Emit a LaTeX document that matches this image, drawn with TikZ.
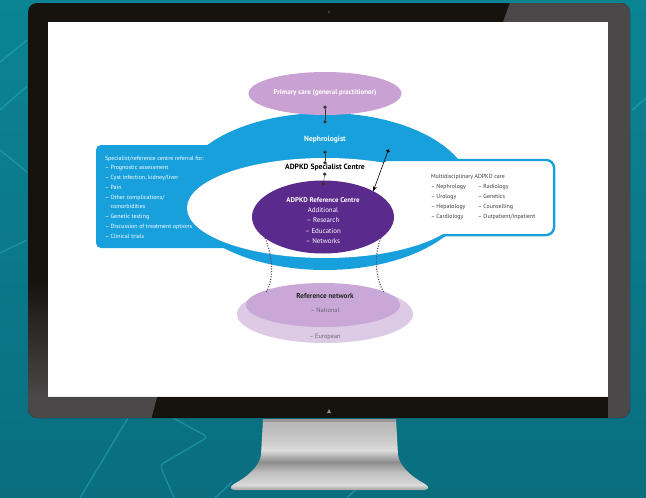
\documentclass[tikz,border=0pt]{standalone}
\usepackage{fontspec}
\setmainfont{PT Sans}
\usetikzlibrary{shapes.geometric,arrows.meta}
\definecolor{bgtop}{HTML}{0B8494}
\definecolor{bgbot}{HTML}{0A6E7F}
\definecolor{bgline}{HTML}{2DB0BF}
\definecolor{bezel}{HTML}{16130F}
\definecolor{bezelgray}{HTML}{4A4848}
\definecolor{blueband}{HTML}{18A0DD}
\definecolor{lilac}{HTML}{C9A2D3}
\definecolor{deeppurple}{HTML}{5A2A8C}
\definecolor{netouter}{HTML}{DDCBE6}
\definecolor{netinner}{HTML}{C9A8D7}
\definecolor{txtgray}{HTML}{3C3C3C}
\definecolor{nettxt}{HTML}{6E5F78}
\definecolor{dashcol}{HTML}{5B4A6B}
\definecolor{st1}{HTML}{B4B2B3}
\definecolor{st2}{HTML}{CACACA}
\definecolor{st3}{HTML}{DCDCDC}
\definecolor{st4}{HTML}{8C8C8C}
\definecolor{st5}{HTML}{BEBEBE}
\definecolor{st6}{HTML}{DADADA}
\definecolor{st7}{HTML}{A0A0A0}
\pgfdeclareverticalshading{standshade}{100bp}{color(0bp)=(st7); color(25bp)=(st7); color(28.5bp)=(st6); color(37.7bp)=(st5); color(44.7bp)=(st4); color(53.2bp)=(st3); color(60.2bp)=(st2); color(75bp)=(st1); color(100bp)=(st1)}
\begin{document}
\begin{tikzpicture}[x=1pt,y=-1pt,
  bgln/.style={draw=bgline, line width=1.3pt, opacity=0.5, rounded corners=4},
  conn/.style={draw=black!80, line width=0.35pt, {Circle[length=3.4pt]}-{Circle[length=3.4pt]}},
  refarrow/.style={draw=black, line width=0.6pt, {Circle[length=3.4pt]}-{Stealth[length=5pt,width=4pt]}},
  netlink/.style={draw=dashcol, line width=1.1pt, dash pattern=on 1.1pt off 1.5pt},
  lbl/.style={inner sep=0, outer sep=0, align=center},
  shapeonly/.style={ellipse, inner sep=0, outer sep=0}]
\useasboundingbox (0,0) rectangle (646,498);
% background
\shade[top color=bgtop, bottom color=bgbot] (0,0) rectangle (646,498);
\draw[bgln] (0,62) -- (27,40);
\draw[bgln] (0,110) -- (27,86);
\draw[bgln] (0,150) -- (27,172);
\draw[bgln] (0,253) -- (27,240);
\draw[bgln] (80,498) -- (128,418);
\draw[bgln] (173,418) -- (208,437) -- (160,465) -- (174,498);
\draw[bgln] (215,498) -- (232,482);
\draw[bgln] (347,498) -- (357,488);
\draw[bgln] (632,110) -- (646,98);
% monitor bezel
\fill[bezel, rounded corners=9] (28,3) rectangle (630,418);
\begin{scope}
  \clip[rounded corners=9] (28,3) rectangle (630,418);
  \fill[bezelgray] (511,0) -- (646,0) -- (646,420) -- (608,420) -- (608,22) -- (503,22) -- cycle;
  \shade[top color=bezel, bottom color=bezelgray] (0,280) rectangle (48,397);
  \fill[bezelgray] (0,397) -- (157,397) -- (151,420) -- (0,420) -- cycle;
\end{scope}
\fill[black!75] (329,12) circle (1.3);
\fill[black!45] (327,413) -- (329,409) -- (331,413) -- cycle;
% screen
\fill[white] (48,22) rectangle (608,397);
\fill[black!8] (48,395.5) rectangle (608,397);
% stand
\shade[shading=standshade] (263,419) -- (261,455) .. controls (259,468) and (245,478) .. (234,484) .. controls (229,487) and (230,490) .. (236,490) -- (423,490) .. controls (429,490) and (430,487) .. (425,484) .. controls (414,478) and (400,468) .. (398,455) -- (396,419) -- cycle;
\fill[black!50, opacity=0.5] (263,419) rectangle (396,422);

% ---- diagram ----
% blue band and boxes
\fill[blueband, rounded corners=5] (96,145) rectangle (232,248);
\fill[blueband] (325,191.5) ellipse [x radius=146, y radius=78.5];
\draw[blueband, line width=2.5pt, fill=white, rounded corners=8] (380,160) rectangle (554,235);
\fill[white] (325,208) ellipse [x radius=138, y radius=50];
\fill[white, rounded corners=7] (381.3,161.3) rectangle (552.7,233.7);

% primary care
\node[shapeonly, fill=lilac, minimum width=153, minimum height=43] (primary) at (325,93.5) {};
\node[lbl, text=white, font=\bfseries\fontsize{7}{8}\selectfont] (primarytxt) at (325,93) {Primary care (general practitioner)};

% nephrologist and specialist centre labels
\node[lbl, text=white, font=\bfseries\fontsize{7.5}{9}\selectfont] (neph) at (325,140) {Nephrologist};
\node[lbl, text=black, font=\bfseries\fontsize{7.6}{9}\selectfont] (spec) at (325,168) {ADPKD Specialist Centre};

% reference centre
\node[shapeonly, fill=deeppurple, minimum width=142, minimum height=73] (ref) at (323,217) {};
\node[lbl, text=white, font=\fontsize{6.9}{10.25}\selectfont] (reftxt) at (323,220.5) {{\bfseries ADPKD Reference Centre}\\Additional\\– Research\\– Education\\– Networks};

% reference network
\node[shapeonly, fill=netouter, minimum width=176, minimum height=58] (netout) at (325,314) {};
\node[shapeonly, fill=netinner, minimum width=154, minimum height=44] (netin) at (323,305) {};
\node[lbl, text=black!85, font=\bfseries\fontsize{7.2}{9}\selectfont] (nettitle) at (325,296) {Reference network};
\node[lbl, text=nettxt, font=\fontsize{6.3}{8}\selectfont] (netnat) at (325,310) {– National};
\node[lbl, text=nettxt, font=\fontsize{6.3}{8}\selectfont] (neteu) at (325,337) {– European};

% left box text
\node[lbl, align=left, anchor=west, text=white, font=\fontsize{6.0}{9.75}\selectfont] (refer) at (105,197) {Specialist/reference centre referral for:\\– Prognostic assessment\\– Cyst infection, kidney/liver\\– Pain\\– Other complications/\\\hphantom{– }comorbidities\\– Genetic testing\\– Discussion of treatment options\\– Clinical trials};

% right box text
\node[lbl, align=left, anchor=west, text=txtgray, font=\fontsize{5.9}{10}\selectfont] (multi) at (431,197) {Multidisciplinary ADPKD care\\\makebox[47pt][l]{– Nephrology}– Radiology\\\makebox[47pt][l]{– Urology}– Genetics\\\makebox[47pt][l]{– Hepatology}– Counselling\\\makebox[47pt][l]{– Cardiology}– Outpatient/inpatient};

% connectors
\draw[conn] ([yshift=9.5pt]primary.south) -- ([yshift=16.5pt]neph.center);
\draw[conn] ([yshift=-10.5pt]neph.center) -- ([yshift=3.5pt]spec.center);
\draw[conn] ([yshift=-4.5pt]spec.center) -- ([yshift=-5pt]ref.north);
\coordinate (nephdot) at (388.5,149.5);
\draw[refarrow] (nephdot) -- (ref.north east);
\draw[netlink] (ref.200) .. controls +(7,16) and +(9,-14) .. (netout.160);
\draw[netlink] (ref.340) .. controls +(-7,16) and +(-9,-14) .. (netout.20);
\end{tikzpicture}
\end{document}
